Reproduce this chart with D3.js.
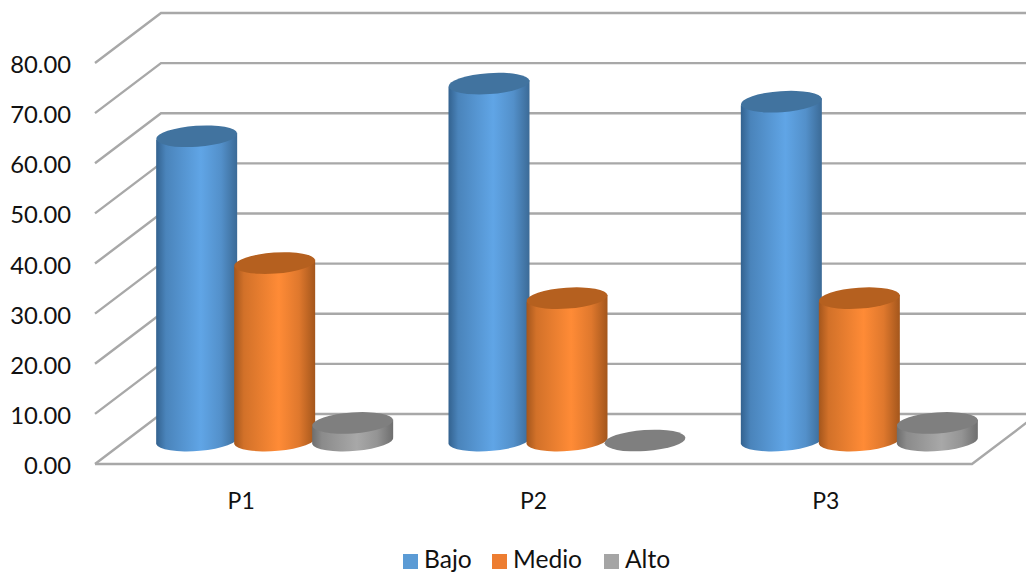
<!DOCTYPE html>
<html lang="es">
<head>
<meta charset="utf-8">
<title>Bajo, Medio, Alto por pregunta</title>
<script src="https://cdn.jsdelivr.net/npm/d3@7/dist/d3.min.js"></script>
<style>
  html, body { margin: 0; padding: 0; background: #fff; overflow: hidden; }
  svg { display: block; }
  text { font-family: Lato, "Open Sans", sans-serif; fill: #111; }
</style>
</head>
<body>
<svg id="chart" width="1026" height="573"></svg>
<script>
// Chart data
const categories = ["P1", "P2", "P3"];
const seriesNames = ["Bajo", "Medio", "Alto"];
const bajo = [60.7, 71.2, 67.6];
const medio = [35.4, 28.4, 28.4];
const alto = [3.5, 0, 3.5];
const yTicks = [0, 10, 20, 30, 40, 50, 60, 70, 80];

const seriesValues = [bajo, medio, alto];
const legendColors = ["#5b9bd5", "#ed7d31", "#a5a5a5"];
const sideColors = [
  { edgeL: "#33628f", mid: "#60a5e6", edgeR: "#3b6a96", top: "#41739f" },
  { edgeL: "#a4561c", mid: "#ff8b36", edgeR: "#a3561c", top: "#b5601f" },
  { edgeL: "#6e6e6e", mid: "#a8a8a8", edgeR: "#6e6e6e", top: "#7f7f7f" }
];

// Layout of the oblique 3D box
const W = 1026, H = 573;
const frontLeft = 95, frontRight = 972;
const depthX = 66, depthY = 50;
const rx = 40.5, ry = 10.5, tilt = -4, tiltDrop = 3.5;

const svg = d3.select("#chart");
const y = d3.scaleLinear().domain([0, 80]).range([464, 63]);
const x0 = d3.scaleBand().domain(categories).range([frontLeft, frontRight]);
const x1 = d3.scaleBand().domain(seriesNames.map((_, i) => i))
  .range([0, 234]);

// Horizontal side-shading for each cylinder
const defs = svg.append("defs");
sideColors.forEach((c, i) => {
  const g = defs.append("linearGradient").attr("id", "side" + i)
    .attr("x1", 0).attr("x2", 1).attr("y1", 0).attr("y2", 0);
  [[0, c.edgeL], [0.12, d3.interpolateRgb(c.edgeL, c.mid)(0.5)],
   [0.55, c.mid], [0.8, d3.interpolateRgb(c.edgeR, c.mid)(0.65)], [1, c.edgeR]]
    .forEach(([o, col]) => g.append("stop").attr("offset", o).attr("stop-color", col));
});

// Walls and floor gridlines
const grid = svg.append("g")
  .attr("fill", "none").attr("stroke", "#a8a8a8").attr("stroke-width", 2.4);
yTicks.forEach(t => {
  const yf = y(t), yb = yf - depthY;
  grid.append("path").attr("d", d3.line()([
    [frontLeft, yf], [frontLeft + depthX, yb], [W + 10, yb]
  ]));
});
grid.append("path").attr("d", d3.line()([
  [frontLeft, y(0)], [frontRight, y(0)], [frontRight + depthX, y(0) - depthY]
]));

// Value axis labels
svg.append("g").selectAll("text").data(yTicks).join("text")
  .attr("x", 71).attr("y", d => y(d) + 1.5).attr("dy", "0.36em")
  .attr("text-anchor", "end").attr("font-size", 23.8)
  .text(d => d3.format(".2f")(d));

// Category labels
svg.append("g").selectAll("text").data(categories).join("text")
  .attr("x", d => x0(d) + x0.bandwidth() / 2).attr("y", 501)
  .attr("dy", "0.36em").attr("text-anchor", "middle").attr("font-size", 23)
  .text(d => d);

// Cylinders, back to front within each group in series order
const groupCenter = c => x0(c) + x0.bandwidth() / 2 + depthX / 2 + 0.5;
const baseY = y(0) - depthY / 2 + 1.5;
const perValue = y(0) - y(1);

categories.forEach((cat, ci) => {
  seriesValues.forEach((vals, si) => {
    const cx = groupCenter(cat) - 117 + x1(si) + x1.bandwidth() / 2;
    const h = vals[ci] * perValue;
    const top = baseY - h;
    const xl = cx - rx, xr = cx + rx;
    if (h > 0) {
      svg.append("path")
        .attr("fill", `url(#side${si})`)
        .attr("d", `M${xl},${top + tiltDrop} L${xl},${baseY + tiltDrop}` +
          ` A${rx},${ry} ${tilt} 0 0 ${xr},${baseY - tiltDrop}` +
          ` L${xr},${top - tiltDrop} Z`);
    }
    svg.append("ellipse")
      .attr("cx", cx).attr("cy", top).attr("rx", rx).attr("ry", ry)
      .attr("transform", `rotate(${tilt} ${cx} ${top})`)
      .attr("fill", sideColors[si].top);
  });
});

// Legend
const legendX = [403, 492, 604];
const legend = svg.append("g");
seriesNames.forEach((name, i) => {
  legend.append("rect").attr("x", legendX[i]).attr("y", 554)
    .attr("width", 15).attr("height", 15).attr("fill", legendColors[i]);
  legend.append("text").attr("x", legendX[i] + 21).attr("y", 567.5)
    .attr("font-size", 24.6).text(name);
});
</script>
</body>
</html>
